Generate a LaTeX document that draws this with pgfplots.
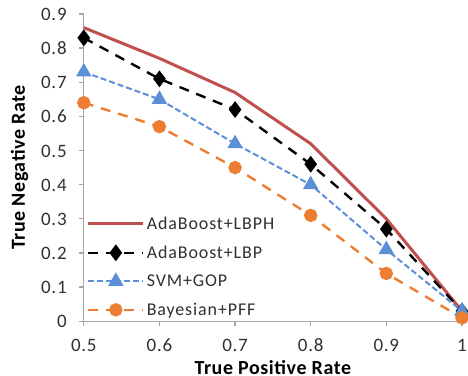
\documentclass[border=0pt]{standalone}
\usepackage{pgfplots}
\pgfplotsset{compat=1.18}
\usepackage{fontspec}
\setmainfont{Carlito}
\newfontfamily\wideleg[LetterSpace=5]{Carlito}
\newfontfamily\widetick[LetterSpace=4]{Carlito}
\newfontfamily\widelab[LetterSpace=3]{Carlito}
\definecolor{cred}{HTML}{C0504D}
\definecolor{cblue}{HTML}{5B8FD8}
\definecolor{corange}{HTML}{ED7D31}
\definecolor{cgray}{HTML}{A6A6A6}
\definecolor{ctext}{HTML}{303030}
\begin{document}
\begin{tikzpicture}
\begin{axis}[
  scale only axis,
  width=379pt, height=308pt,
  xmin=0.5, xmax=1, ymin=0, ymax=0.9,
  xtick={0.5,0.6,0.7,0.8,0.9,1},
  xticklabels={0.5,0.6,0.7,0.8,0.9,1},
  ytick={0,0.1,0.2,0.3,0.4,0.5,0.6,0.7,0.8,0.9},
  yticklabels={0,0.1,0.2,0.3,0.4,0.5,0.6,0.7,0.8,0.9},
  axis x line*=bottom, axis y line*=left,
  axis line style={cgray, line width=1.3pt, -},
  tick style={cgray, line width=1.3pt},
  tick align=outside,
  major tick length=5pt,
  ticklabel style={font=\widetick\fontsize{19}{21}\selectfont, text=ctext, inner sep=1pt, text height=13pt, text depth=0pt},
  xticklabel style={yshift=-11pt},
  yticklabel style={xshift=-11pt},
  clip=false,
  legend cell align=left,
  legend style={at={(0.005,0.35)}, anchor=north west, draw=none, fill=none,
    font=\wideleg\fontsize{18}{20}\selectfont, text=ctext, row sep=11pt,
    inner sep=1pt,
    legend image code/.code={\draw[mark repeat=2,mark phase=2] plot coordinates {(0pt,0pt) (27.5pt,0pt) (55pt,0pt)};}},
]
\addplot[cred, line width=3pt, no marks] coordinates {(0.5,0.86) (0.6,0.77) (0.7,0.67) (0.8,0.52) (0.9,0.30) (1,0.03)};
\addlegendentry{AdaBoost+LBPH}
\addplot[black, line width=2.4pt, dash pattern=on 10pt off 8pt, mark=diamond*, mark size=6.5pt, mark options={solid}] coordinates {(0.5,0.83) (0.6,0.71) (0.7,0.62) (0.8,0.46) (0.9,0.27) (1,0.03)};
\addlegendentry{AdaBoost+LBP}
\addplot[cblue, line width=2pt, dash pattern=on 6pt off 3pt, mark=triangle*, mark size=7pt, mark options={solid}] coordinates {(0.5,0.73) (0.6,0.65) (0.7,0.52) (0.8,0.40) (0.9,0.21) (1,0.03)};
\addlegendentry{SVM+GOP}
\addplot[corange, line width=2.4pt, dash pattern=on 10pt off 8pt, mark=*, mark size=5.5pt, mark options={solid}] coordinates {(0.5,0.64) (0.6,0.57) (0.7,0.45) (0.8,0.31) (0.9,0.14) (1,0.01)};
\addlegendentry{Bayesian+PFF}
\node[anchor=north, inner sep=1pt, yshift=-38pt, text height=14pt, text depth=0pt, font=\widelab\fontsize{20}{23}\selectfont\bfseries] at (rel axis cs:0.5,0) {True Positive Rate};
\node[anchor=south, rotate=90, inner sep=1pt, text height=14pt, text depth=0pt, font=\widelab\fontsize{20}{23}\selectfont\bfseries] at (rel axis cs:-0.153,0.5) {True Negative Rate};
\path (rel axis cs:0,1) ++(-84pt,14pt);
\end{axis}
\end{tikzpicture}
\end{document}
